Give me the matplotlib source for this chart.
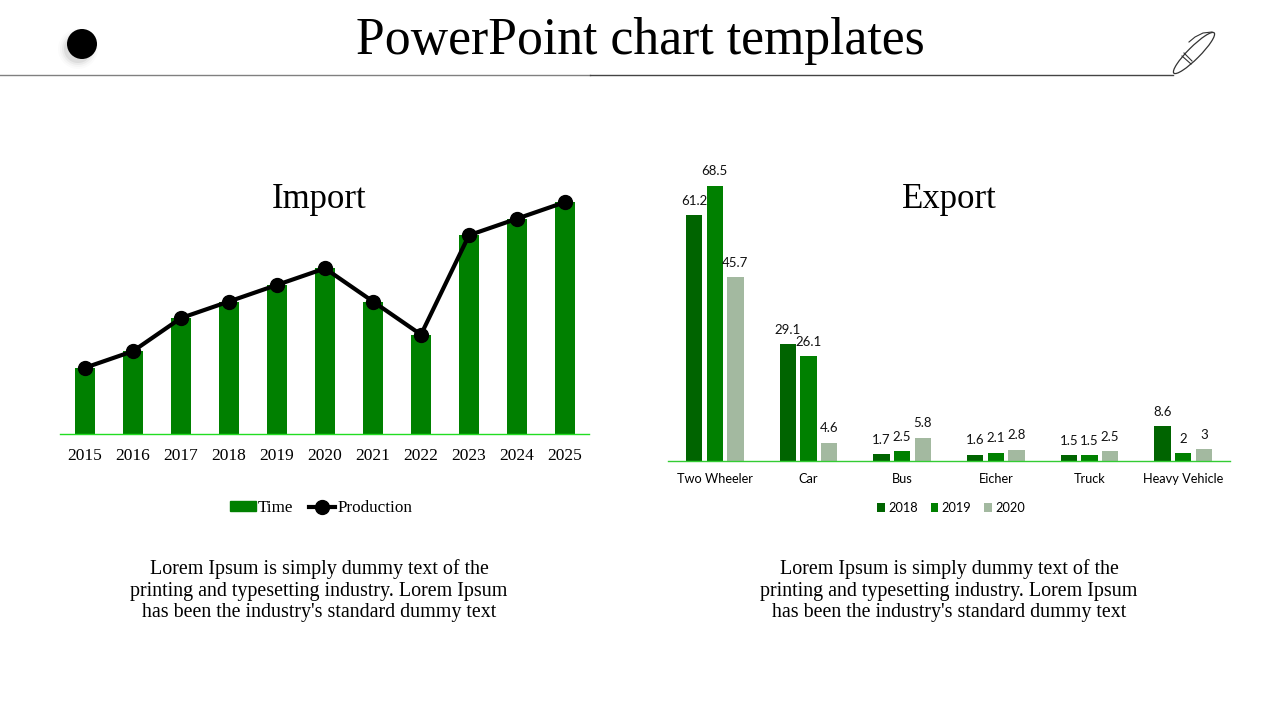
import numpy as np
import matplotlib
matplotlib.use("Agg")
import matplotlib.pyplot as plt
from matplotlib.lines import Line2D
from matplotlib.patches import Circle, Ellipse, Patch

# Import chart
years = ["2015", "2016", "2017", "2018", "2019", "2020", "2021", "2022", "2023", "2024", "2025"]
time_vals = [2, 2.5, 3.5, 4, 4.5, 5, 4, 3, 6, 6.5, 7]
production_vals = [2, 2.5, 3.5, 4, 4.5, 5, 4, 3, 6, 6.5, 7]

# Export chart
vehicles = ["Two Wheeler", "Car", "Bus", "Eicher", "Truck", "Heavy Vehicle"]
export_2018 = [61.2, 29.1, 1.7, 1.6, 1.5, 8.6]
export_2019 = [68.5, 26.1, 2.5, 2.1, 1.5, 2]
export_2020 = [45.7, 4.6, 5.8, 2.8, 2.5, 3]

lorem_lines = "Lorem Ipsum is simply dummy text of the\nprinting and typesetting industry. Lorem Ipsum\nhas been the industry's standard dummy text"

SERIF = "Liberation Serif"
SANS = "Lato"
GREEN = "#008000"
DARK = "#006400"
PALE = "#a3b9a0"
W, H = 1280, 720


def px_axes(fig, left, top, right, bottom):
    return fig.add_axes([left / W, 1 - bottom / H, (right - left) / W, (bottom - top) / H])


fig = plt.figure(figsize=(12.8, 7.2), dpi=100, facecolor="white")

# page furniture, in pixel coordinates
bg = fig.add_axes([0, 0, 1, 1], zorder=0)
bg.set_xlim(0, W)
bg.set_ylim(H, 0)
bg.axis("off")
for r, a in zip([20, 18, 16, 14], [0.015, 0.025, 0.04, 0.06]):
    bg.add_patch(Circle((78, 49), r, color="black", alpha=a, lw=0))
bg.add_patch(Circle((82, 44), 15, color="black", lw=0))
bg.plot([0, 590], [75, 75], color="#808080", lw=1)
bg.plot([590, 1173], [74.5, 74.5], color="#444444", lw=1)
bg.add_patch(Ellipse((1194, 53), 57, 12, angle=-45, fc="none", ec="#333333", lw=0.9))
bg.plot([1182, 1191], [56, 64], color="#333333", lw=0.8)
bg.plot([1184, 1192], [53, 61], color="#333333", lw=0.8)
bg.plot([1189, 1195, 1203, 1212], [42, 37, 33, 32], color="#333333", lw=0.8)
bg.text(640, 41, "PowerPoint chart templates", ha="center", va="center",
        fontsize=37.3, family=SERIF, color="black")
bg.text(319, 199, "Import", ha="center", va="center", fontsize=25, family=SERIF)
bg.text(949, 199, "Export", ha="center", va="center", fontsize=25, family=SERIF)
bg.text(319, 591, lorem_lines, ha="center", va="center", fontsize=14.4, family=SERIF, linespacing=1.18)
bg.text(949, 591, lorem_lines, ha="center", va="center", fontsize=14.4, family=SERIF, linespacing=1.18)

# left chart
ax1 = px_axes(fig, 60, 170, 589, 434)
ax1.patch.set_alpha(0)
x1 = np.arange(len(years))
ax1.bar(x1, time_vals, width=0.41, color=GREEN)
ax1.plot(x1, production_vals, color="black", lw=3, marker="o", ms=10, clip_on=False)
ax1.set_xlim(-0.52, len(years) - 0.5)
ax1.set_ylim(0, 7.97)
ax1.set_xticks(x1)
ax1.set_xticklabels(years, family=SERIF, fontsize=12.5)
ax1.set_yticks([])
ax1.tick_params(axis="x", length=0, pad=10)
for s in ["top", "left", "right"]:
    ax1.spines[s].set_visible(False)
ax1.spines["bottom"].set_color("#22dd22")
ax1.spines["bottom"].set_linewidth(1)
handles1 = [Patch(color=GREEN, label="Time"),
            Line2D([0], [0], color="black", lw=3, marker="o", ms=10, label="Production")]
ax1.legend(handles=handles1, loc="center", bbox_to_anchor=((321 - 60) / 529, (434 - 508) / 264),
           ncol=2, frameon=False, prop={"family": SERIF, "size": 12.3},
           handlelength=1.5, handleheight=0.5, handletextpad=0.15, columnspacing=0.9, borderpad=0)

# right chart
ax2 = px_axes(fig, 668, 170, 1230, 461)
ax2.patch.set_alpha(0)
x2 = np.arange(len(vehicles))
bar_w = 0.175
offset = 0.22
groups = [(export_2018, DARK, "2018", -offset), (export_2019, GREEN, "2019", 0), (export_2020, PALE, "2020", offset)]
for vals, col, lab, off in groups:
    bars = ax2.bar(x2 + off, vals, width=bar_w, color=col, label=lab)
    ax2.bar_label(bars, labels=[f"{v:g}" for v in vals], padding=6, fontsize=9.5, family=SANS, color="#111111")
ax2.set_xlim(-0.5, len(vehicles) - 0.5)
ax2.set_ylim(0, 291 / 4.02)
ax2.set_xticks(x2)
ax2.set_xticklabels(vehicles, family=SANS, fontsize=9.2)
ax2.set_yticks([])
ax2.tick_params(axis="x", length=0, pad=9)
for s in ["top", "left", "right"]:
    ax2.spines[s].set_visible(False)
ax2.spines["bottom"].set_color("#33cc33")
ax2.spines["bottom"].set_linewidth(1)
ax2.legend(loc="center", bbox_to_anchor=((951 - 668) / 562, (461 - 508) / 291), ncol=3, frameon=False,
           prop={"family": SANS, "size": 9.2}, handlelength=0.62, handleheight=0.62,
           handletextpad=0.25, columnspacing=1.0, borderpad=0)

fig.savefig("out.png", dpi=100, facecolor="white")
